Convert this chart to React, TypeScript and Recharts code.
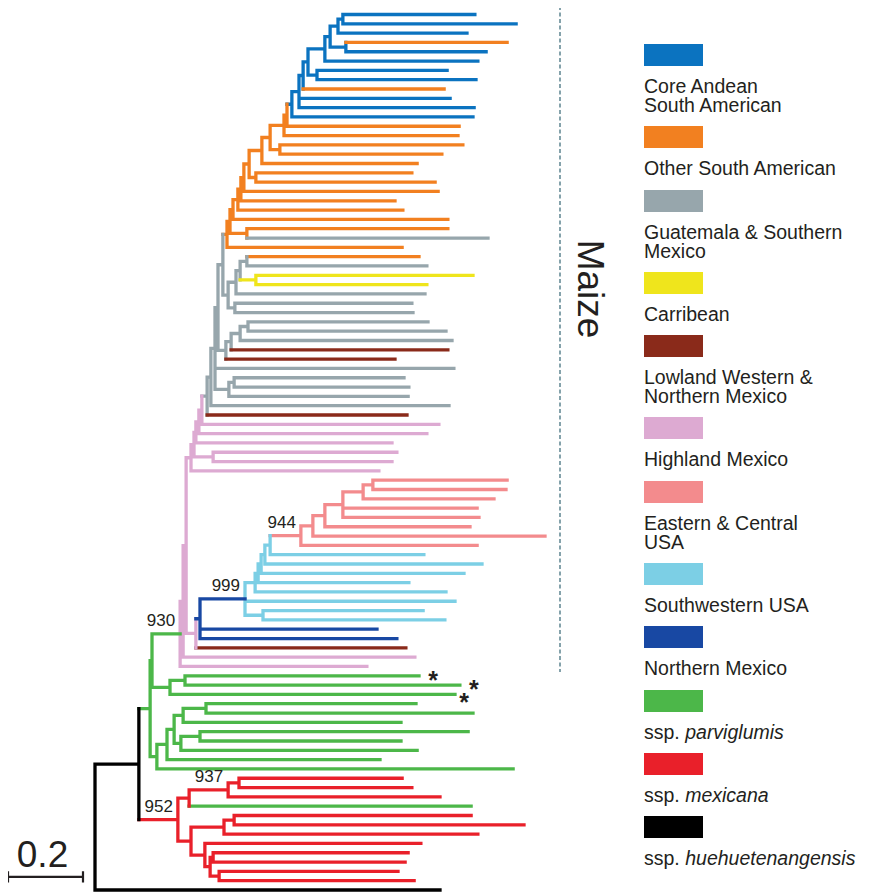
import React from 'react';
import { ComposedChart, Line, Scatter, XAxis, YAxis } from 'recharts';

// group codes used in the tree, with colour and legend text
const groupCodes = ['B', 'O', 'G', 'Y', 'R', 'P', 'S', 'C', 'N', 'V', 'M', 'K'];
const groupColors = [
  '#0b73c0', '#f28020', '#97a6ac', '#efe51c', '#8a2a1a', '#ddaad2',
  '#f38b8d', '#7ccfe5', '#1848a3', '#4cb749', '#e9202a', '#000000',
];
const legendLabels = [
  'Core Andean\nSouth American', 'Other South American', 'Guatemala & Southern\nMexico',
  'Carribean', 'Lowland Western &\nNorthern Mexico', 'Highland Mexico',
  'Eastern & Central\nUSA', 'Southwestern USA', 'Northern Mexico',
  'ssp. ', 'ssp. ', 'ssp. ',
];
const legendItalic = ['', '', '', '', '', '', '', '', '', 'parviglumis', 'mexicana', 'huehuetenangensis'];

// tree in newick form; number after ':' is the node depth (substitutions from root),
// letters = group (branch colour / vertical colour), '#' = bootstrap label, '*' = marked accession
const coreAndean =
  '((((((((B:1.013,B:1.123)B:0.661,B:0.992)B:0.648,(O:1.099,B:1.043)B:0.669)B:0.627,B:1.021)B:0.613,(B:0.939,B:1.016)B:0.592)B:0.568,O:0.931)B:0.555,B:0.947,B:1.011)B:0.544,B:1.008)B:0.525';
const otherSA = `(((((((((((${coreAndean},O:0.971)O:0.512,O:0.968)O:0.504,(O:0.981,O:0.925)O:0.493)O:0.467,O:0.859)O:0.445,(O:0.845,O:0.907)O:0.429)O:0.411,O:0.915)O:0.397,O:0.8)O:0.389,O:0.821)O:0.381,O:0.941)O:0.368,(O:0.941,G:1.048)O:0.405)O:0.36,O:0.819)O:0.352`;
const grayUpper = '((((O:0.864,G:0.885)G:0.405,(Y:1.008,Y:0.885)Y:0.429)G:0.387,G:0.88)G:0.376,(G:0.845,G:0.848)G:0.373)G:0.355';
const grayLower = '((((G:0.888,G:0.936)G:0.408,G:0.952)G:0.387,R:0.941)G:0.363,R:0.8)G:0.349';
const gray40 = '((G:0.824,G:0.837)G:0.371,G:0.835)G:0.357';
const highland = `((((((((((${otherSA},${grayUpper})G:0.341,${grayLower})G:0.328,G:0.957,${gray40})G:0.32,G:0.944)G:0.309,R:0.832)G:0.299,P:0.917)P:0.285,P:0.885)P:0.277,P:0.792)P:0.269,(P:0.805,P:0.792)P:0.315)P:0.264,P:0.757)P:0.256`;
const eastUSA = '((((((S:1.099,S:1.096)S:0.741,S:1.064)S:0.715,S:1.019,S:1.024)S:0.661,S:1.0)S:0.613,S:1.2)S:0.581,S:1.019)S#944:0.549';
const southwest = `((((((${eastUSA},C:0.877)C:0.467,C:1.032)C:0.453,C:0.984)C:0.443,C:0.837)C:0.435,C:0.936)C:0.427,C:0.96,(C:0.875,C:0.933)C:0.448)NC#999:0.4`;
const northern = `((${southwest},N:0.752,N:0.805)N:0.28,R:0.829)P:0.269`;
const maize = `(((${highland},${northern})P:0.243,P:0.853)P:0.235,P:0.725)VP#930:0.227`;
const parviglumis = `((${maize},((V*:0.864,V*:0.973)V:0.24,V*:0.96)V:0.2)V:0.152,(((((V:0.856,V:1.008)V:0.296,V:0.816)V:0.235,((V:0.995,V:0.816)V:0.28,V:0.859)V:0.229)V:0.211,V:0.76)V:0.192,V:1.115)V:0.165)V:0.147`;
const mexicana = '((((M:0.819,M:0.845)M:0.384,M:0.92)M#937:0.355,V:1.003)M:0.251,(((M:1.003,M:1.144)M:0.371,M:1.021)M:0.344,(M:0.869,((M:0.835,M:0.827)M:0.315,(M:0.808,M:0.851)M:0.331)M:0.307)M:0.293)M:0.256)M#952:0.221';
const treeSource = `((${parviglumis},${mexicana})K:0.117,K:0.92)K:0`;

// scale bar (in substitutions) and where it sits (row below the last tip)
const scaleLength = 0.2;
const scaleStart = -0.232;
const scaleRow = 92.6;

type TreeNode = { code: string; depth: number; label: string; star: boolean; children: TreeNode[]; y: number };

function parseTree(src: string): TreeNode {
  let i = 0;
  const read = (): TreeNode => {
    const children: TreeNode[] = [];
    if (src[i] === '(') {
      i++;
      children.push(read());
      while (src[i] === ',') { i++; children.push(read()); }
      i++;
    }
    let code = '';
    while (/[A-Z]/.test(src[i])) code += src[i++];
    let star = false;
    if (src[i] === '*') { star = true; i++; }
    let label = '';
    if (src[i] === '#') { i++; while (/[0-9]/.test(src[i])) label += src[i++]; }
    i++; // ':'
    let num = '';
    while (i < src.length && /[0-9.]/.test(src[i])) num += src[i++];
    return { code, depth: parseFloat(num), label, star, children, y: 0 };
  };
  return read();
}

const root = parseTree(treeSource);
let leafIndex = 0;
const place = (n: TreeNode) => {
  if (!n.children.length) { n.y = leafIndex++; return; }
  n.children.forEach(place);
  n.y = (n.children[0].y + n.children[n.children.length - 1].y) / 2;
};
place(root);

type Pt = { x: number; y: number | null };
const lineData: Record<string, Pt[]> = {};
const labelPoints: { x: number; y: number; text: string; kind: string }[] = [];
const addSeg = (code: string, x1: number, y1: number, x2: number, y2: number) => {
  (lineData[code] ||= []).push({ x: x1, y: y1 }, { x: x2, y: y2 }, { x: x2, y: null });
};
const walk = (n: TreeNode, parent: TreeNode | null) => {
  if (parent) addSeg(n.code[0], parent.depth, n.y, n.depth, n.y);
  if (n.children.length) {
    const first = n.children[0], last = n.children[n.children.length - 1];
    addSeg(n.code[n.code.length - 1], n.depth, first.y, n.depth, last.y);
    n.children.forEach((c) => walk(c, n));
  }
  if (n.label) labelPoints.push({ x: n.depth, y: n.y, text: n.label, kind: 'boot' });
  if (n.star) labelPoints.push({ x: n.depth, y: n.y, text: '*', kind: 'star' });
};
walk(root, null);

const scaleData: Pt[] = [
  { x: scaleStart, y: scaleRow }, { x: scaleStart + scaleLength, y: scaleRow }, { x: scaleStart, y: null },
  { x: scaleStart, y: scaleRow - 0.6 }, { x: scaleStart, y: scaleRow + 0.6 }, { x: scaleStart, y: null },
  { x: scaleStart + scaleLength, y: scaleRow - 0.6 }, { x: scaleStart + scaleLength, y: scaleRow + 0.6 },
];
labelPoints.push({ x: scaleStart + scaleLength / 2, y: scaleRow, text: String(scaleLength), kind: 'scale' });

const FONT = '"Liberation Sans", Arial, Helvetica, sans-serif';
const TEXT = '#231f20';

let starCount = 0;
const renderLabel = (p: any) => {
  const { cx, cy, payload } = p;
  if (payload.kind === 'boot') {
    return <text x={cx - 5} y={cy - 8} textAnchor="end" fontSize={17} fill={TEXT} fontFamily={FONT}>{payload.text}</text>;
  }
  if (payload.kind === 'star') {
    // marked accessions: stagger so stacked stars stay readable, as in the figure
    const k = starCount++ % 3;
    return <text x={cx + (k === 2 ? 9 : 14)} y={cy + (k === 2 ? 17 : 13)} textAnchor="middle" fontSize={25} fontWeight="bold" fill={TEXT} fontFamily={FONT}>{payload.text}</text>;
  }
  return <text x={cx - 3} y={cy - 10} textAnchor="middle" fontSize={37} fill={TEXT} fontFamily={FONT}>{payload.text}</text>;
};

const W = 856;
const H = 888;

export default function App() {
  return (
    <div style={{ position: 'relative', width: W, height: H, fontFamily: FONT }}>
      <ComposedChart width={W} height={H} margin={{ top: 6.5, right: 319, bottom: 6, left: 0 }}>
        <XAxis type="number" dataKey="x" domain={[-0.232, 1.2]} hide />
        <YAxis type="number" dataKey="y" domain={[0, 94]} reversed hide />
        {groupCodes.map((c, i) =>
          lineData[c] ? (
            <Line
              key={c}
              data={lineData[c]}
              dataKey="y"
              stroke={groupColors[i]}
              strokeWidth={3.3}
              strokeLinecap="square"
              dot={false}
              activeDot={false}
              connectNulls={false}
              isAnimationActive={false}
            />
          ) : null
        )}
        <Line data={scaleData} dataKey="y" stroke="#231f20" strokeWidth={2.2} dot={false} activeDot={false} isAnimationActive={false} />
        <Scatter data={labelPoints} shape={renderLabel} isAnimationActive={false} />
      </ComposedChart>

      <svg width={W} height={H} style={{ position: 'absolute', left: 0, top: 0, pointerEvents: 'none' }}>
        <line x1={552} y1={-2} x2={552} y2={664} stroke="#5c8490" strokeWidth={1.5} strokeDasharray="4 2.5" />
        <text transform="translate(570,281) rotate(90)" textAnchor="middle" fontSize={37} fill={TEXT} fontFamily={FONT}>Maize</text>
      </svg>

      <div style={{ position: 'absolute', left: 636, top: 36, width: 220 }}>
        {groupCodes.map((c, i) => (
          <div key={c} style={{ marginBottom: 11.3 }}>
            <div style={{ width: 59, height: 22, background: groupColors[i] }} />
            <div style={{ marginTop: 11, fontSize: 19.5, lineHeight: '19px', color: TEXT, whiteSpace: 'pre' }}>
              {legendLabels[i]}
              {legendItalic[i] ? <i>{legendItalic[i]}</i> : null}
            </div>
          </div>
        ))}
      </div>
    </div>
  );
}
